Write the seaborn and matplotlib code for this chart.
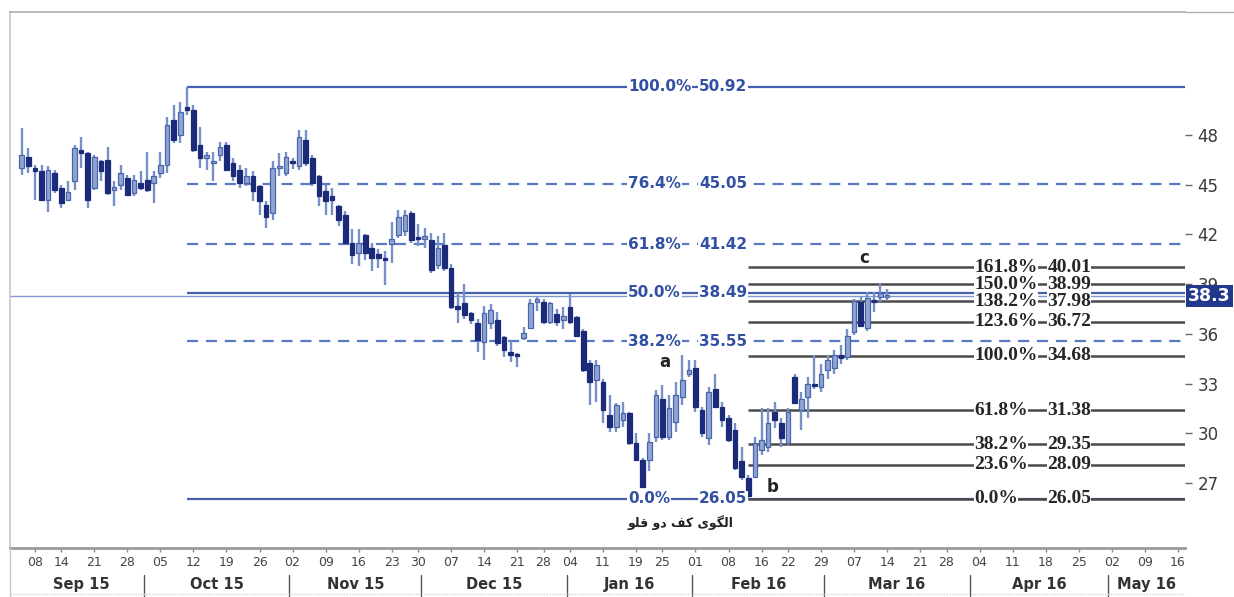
import pandas as pd
import seaborn as sns
import matplotlib.pyplot as plt
import matplotlib.transforms as mtransforms

# ======================================
# DATA (daily candles)
# ======================================

opens = [46.0, 46.7, 46.0, 45.8, 44.1, 45.7, 44.8, 44.1, 45.2, 47.1,
         46.9, 44.8, 46.4, 46.5, 44.7, 45.0, 45.4, 44.5, 45.1, 45.3,
         45.1, 45.7, 46.2, 48.9, 48.0, 49.7, 49.5, 47.4, 46.6, 46.3,
         46.8, 47.4, 46.3, 45.9, 45.1, 45.5, 44.9, 43.8, 43.3, 46.0,
         45.7, 46.4, 46.1, 47.7, 46.6, 45.5, 44.6, 44.3, 43.7, 43.2,
         41.5, 40.9, 41.95, 41.2, 40.8, 40.6, 41.4, 41.95, 42.2, 43.3,
         41.8, 41.7, 41.65, 40.15, 41.35, 40.0, 37.7, 37.85, 37.25, 36.65,
         35.5, 36.65, 36.85, 35.8, 34.9, 34.75, 35.75, 36.35, 37.9, 37.9,
         36.7, 37.2, 36.85, 37.6, 37.0, 36.2, 34.25, 33.2, 33.1, 31.1,
         30.4, 30.8, 31.2, 29.4, 28.4, 28.4, 29.8, 32.1, 29.8, 30.7,
         32.2, 33.6, 33.95, 31.4, 29.7, 32.7, 31.6, 30.9, 30.2, 28.3,
         27.3, 27.35, 29.0, 29.2, 31.3, 30.6, 29.4, 33.4, 31.4, 32.2,
         32.95, 32.8, 33.8, 33.95, 34.7, 34.6, 36.1, 37.9, 36.35, 38.05,
         38.2, 38.25]
highs = [48.4, 47.2, 46.2, 46.2, 46.1, 45.9, 45.0, 45.2, 47.4, 47.9,
         47.0, 46.8, 46.5, 47.3, 45.2, 46.2, 45.6, 45.6, 45.8, 47.0,
         45.8, 47.0, 49.1, 49.8, 50.0, 50.92, 49.8, 48.5, 47.0, 47.0,
         47.6, 47.6, 46.6, 46.2, 46.0, 45.8, 45.0, 44.0, 46.4, 46.9,
         47.0, 46.6, 48.3, 48.3, 46.8, 45.6, 45.0, 44.8, 43.8, 43.4,
         42.3, 42.3, 42.0, 41.5, 41.1, 41.0, 42.75, 43.5, 43.5, 43.4,
         42.6, 42.4, 42.1, 41.9, 42.1, 40.2, 38.45, 39.0, 37.3, 36.9,
         37.7, 37.8, 37.3, 35.9, 35.55, 34.85, 36.4, 38.1, 38.2, 38.1,
         37.9, 37.5, 37.6, 38.4, 37.1, 36.3, 34.4, 34.4, 33.3, 32.3,
         31.8, 31.9, 31.3, 30.0, 28.5, 30.0, 32.6, 32.9, 32.3, 33.1,
         34.7, 34.4, 34.4, 31.6, 32.8, 33.6, 31.9, 31.1, 30.6, 29.2,
         27.5, 29.8, 31.5, 31.5, 31.9, 30.9, 31.5, 33.6, 32.5, 33.4,
         34.7, 34.2, 34.7, 35.0, 35.3, 36.3, 38.1, 38.2, 38.5, 38.5,
         39.05, 38.7]
lows = [45.6, 45.7, 44.1, 44.0, 43.35, 44.5, 43.6, 44.0, 44.7, 46.0,
        43.6, 44.7, 45.2, 44.35, 43.7, 44.7, 44.3, 44.3, 44.7, 44.55,
        43.9, 45.4, 45.7, 47.5, 47.5, 49.2, 47.0, 46.0, 45.9, 45.2,
        46.4, 45.8, 45.2, 44.8, 44.9, 44.0, 43.2, 42.4, 42.9, 45.5,
        45.5, 45.95, 45.9, 46.1, 44.9, 43.7, 43.2, 43.2, 42.5, 41.45,
        40.2, 40.1, 40.45, 39.8, 40.0, 38.95, 40.3, 41.8, 41.9, 41.5,
        41.3, 41.2, 39.7, 39.9, 39.8, 37.5, 36.65, 36.9, 36.6, 34.9,
        34.4, 36.3, 35.25, 34.6, 34.3, 34.0, 35.6, 36.3, 37.4, 36.6,
        36.6, 36.5, 36.3, 36.6, 35.8, 33.7, 31.7, 31.9, 30.6, 30.1,
        30.1, 30.4, 29.3, 28.3, 26.7, 27.7, 29.5, 29.6, 29.6, 30.1,
        31.7, 33.4, 31.3, 29.8, 29.3, 31.5, 30.4, 29.5, 27.8, 27.2,
        26.05, 27.3, 28.7, 28.9, 30.3, 29.2, 29.3, 31.75, 30.2, 30.9,
        32.7, 32.5, 33.3, 33.6, 34.2, 34.4, 35.95, 36.4, 36.2, 37.3,
        37.9, 38.0]
closes = [46.8, 46.1, 45.8, 44.1, 45.9, 44.7, 43.9, 44.55, 47.2, 46.9,
          44.1, 46.7, 45.8, 44.5, 44.85, 45.7, 44.4, 45.3, 44.8, 44.7,
          45.5, 46.2, 48.6, 47.7, 49.4, 49.5, 47.1, 46.6, 46.8, 46.4,
          47.3, 45.9, 45.5, 45.1, 45.5, 44.6, 44.0, 43.05, 46.0, 46.1,
          46.7, 46.3, 47.9, 46.3, 45.1, 44.3, 44.0, 44.1, 42.9, 41.5,
          40.75, 41.5, 40.9, 40.6, 40.6, 40.45, 41.7, 43.05, 43.2, 41.65,
          41.7, 41.9, 39.85, 41.2, 40.0, 37.6, 37.5, 37.15, 36.85, 35.6,
          37.25, 37.45, 35.45, 35.0, 34.75, 34.65, 36.05, 37.85, 38.1, 36.7,
          37.85, 36.7, 37.05, 36.7, 35.9, 33.8, 33.1, 34.1, 31.4, 30.4,
          31.7, 31.2, 29.4, 28.4, 26.75, 29.5, 32.3, 29.8, 31.5, 32.3,
          33.2, 33.8, 31.6, 30.0, 32.5, 31.6, 30.8, 29.6, 27.9, 27.35,
          26.2, 29.4, 29.6, 30.6, 30.8, 29.7, 31.3, 31.8, 32.1, 33.0,
          32.85, 33.6, 34.4, 34.7, 34.55, 35.9, 38.0, 36.5, 38.15, 37.9,
          38.45, 38.35]

first_day = "2015-09-03"
holidays = ["2015-09-07", "2015-11-26", "2015-12-25", "2016-01-01",
            "2016-01-18", "2016-02-15", "2016-03-25", "2016-05-30"]

# retracement of the Oct high -> Feb low (blue)
ret_pct = ["100.0%", "76.4%", "61.8%", "50.0%", "38.2%", "0.0%"]
ret_val = [50.92, 45.05, 41.42, 38.49, 35.55, 26.05]
ret_dashed = [False, True, True, False, True, False]

# extension a-b-c (black)
ext_pct = ["161.8%", "150.0%", "138.2%", "123.6%", "100.0%",
           "61.8%", "38.2%", "23.6%", "0.0%"]
ext_val = [40.01, 38.99, 37.98, 36.72, 34.68, 31.38, 29.35, 28.09, 26.05]

price_ticks = [27, 30, 33, 36, 39, 42, 45, 48]
last_price = 38.3
note_text = "\uFEEE\uFEE0\uFED7 \uFEED\uFEA9 \uFED2\uFB90 \uFBFC\uFEEE\uFB95\uFEDF\uFE8D"  # الگوی کف دو قلو

# ======================================
# CALENDAR (trading-day index on x)
# ======================================

days = pd.bdate_range(first_day, "2016-06-10", freq="C", holidays=holidays)
frame = pd.DataFrame({"date": days[:180]})
frame["idx"] = range(len(frame))
frame["week"] = frame["date"].dt.to_period("W")
frame["month"] = frame["date"].dt.to_period("M")

candles = pd.DataFrame({"o": opens, "h": highs, "l": lows, "c": closes})
candles["idx"] = range(len(candles))
candles["up"] = candles["c"] >= candles["o"]

# ======================================
# FIGURE
# ======================================

sns.set_theme(style="white")
plt.rcParams["font.family"] = ["DejaVu Sans"]

W, H = 1234, 597
fig = plt.figure(figsize=(W / 100, H / 100), dpi=100)
ax = fig.add_axes([10 / W, 49 / H, 1175 / W, 536 / H])

x_left, x_right = -1.77, 176.1
ax.set_xlim(x_left, x_right)
ax.set_ylim(23.08, 55.42)

navy = "#1c2a7a"
up_fill = "#8fa5d2"
up_edge = "#4a65ad"
wick = "#7690c8"
fib_blue = "#4460aa"
fib_dash = "#5a79c2"
label_blue = "#3250a3"
ext_grey = "#4a4a4a"

# wicks
ax.vlines(candles["idx"], candles["l"], candles["h"], color=wick, lw=1.7, zorder=4)

# bodies
body_h = (candles["c"] - candles["o"]).abs().clip(lower=0.12)
body_b = candles[["o", "c"]].min(axis=1)
ax.bar(candles["idx"], body_h, bottom=body_b, width=0.7,
       color=[up_fill if u else navy for u in candles["up"]],
       edgecolor=[up_edge if u else navy for u in candles["up"]],
       linewidth=0.9, zorder=5)

# blue retracement
x_start = 25
for pct, val, dashed in zip(ret_pct, ret_val, ret_dashed):
    ax.hlines(val, x_start, x_right,
              color=fib_dash if dashed else fib_blue, lw=1.6,
              linestyles=(0, (5, 3.5)) if dashed else "solid", zorder=2)
    box = dict(facecolor="white", edgecolor="none", pad=0.6)
    ax.text(91.8, val, pct, ha="left", va="center", fontsize=11,
            fontweight="bold", color=label_blue, bbox=box, zorder=6)
    ax.text(109.8, val, f"{val:.2f}", ha="right", va="center", fontsize=11,
            fontweight="bold", color=label_blue, bbox=box, zorder=6)

# current price line
ax.axhline(last_price, color="#7f9ad0", lw=1.0, zorder=2)

# black extension
x_ext = 110
for pct, val in zip(ext_pct, ext_val):
    ax.hlines(val, x_ext, x_right, color=ext_grey, lw=1.8, zorder=3)
    box = dict(facecolor="white", edgecolor="none", pad=0.2)
    ax.text(144.2, val, pct, ha="left", va="center", fontsize=14,
            fontweight="bold", family="Liberation Serif", color="#262626",
            bbox=box, zorder=6)
    ax.text(161.9, val, f"{val:.2f}", ha="right", va="center", fontsize=14,
            fontweight="bold", family="Liberation Serif", color="#262626",
            bbox=box, zorder=6)

# wave letters and note
for letter, xi, yv in [("a", 97.4, 34.3), ("b", 113.6, 26.75), ("c", 127.5, 40.55)]:
    ax.text(xi, yv, letter, ha="center", va="center", fontsize=12,
            fontweight="bold", color="#222222", zorder=7)
ax.text(99.7, 24.62, note_text, ha="center", va="center", fontsize=9,
        fontweight="bold", color="#222222", family=["DejaVu Sans"], zorder=7)

# right price axis
ax.yaxis.tick_right()
ax.set_yticks(price_ticks)
ax.set_yticklabels([str(t) for t in price_ticks])
ax.tick_params(axis="y", right=True, length=5, width=1, color="#666666",
               pad=4, labelsize=12, labelcolor="#3a3a3a")
ax.text(1.0025, last_price, f"{last_price:.1f}", transform=ax.get_yaxis_transform(),
        ha="left", va="center", fontsize=12.5, fontweight="bold", color="white",
        bbox=dict(facecolor="#22388a", edgecolor="none", pad=1.5), zorder=10,
        clip_on=False)

# bottom date axis
weeks = frame.groupby("week")["idx"].first()
weeks = weeks[weeks > 0]
weeks = weeks[weeks <= x_right]
ax.set_xticks(list(weeks.values))
ax.set_xticklabels(frame.loc[weeks.values, "date"].dt.strftime("%d"))
ax.tick_params(axis="x", bottom=True, length=3, width=1, color="#888888",
               pad=3, labelsize=9, labelcolor="#444444")

months = frame.groupby("month")["idx"].agg(["first", "last"])
xform = mtransforms.blended_transform_factory(ax.transData, ax.transAxes)
for per, row in months.iterrows():
    if row["first"] > x_right:
        break
    lo = max(row["first"] - 0.5, x_left)
    hi = min(row["last"] + 0.5, x_right)
    ax.text((lo + hi) / 2, -0.068, per.strftime("%b %y"), transform=xform,
            ha="center", va="center", fontsize=10.5, fontweight="bold",
            color="#333333")
    if row["first"] > 0:
        ax.plot([row["first"] - 0.5] * 2, [-0.05, -0.09], transform=xform,
                color="#555555", lw=1, clip_on=False)

ax.spines["right"].set_visible(False)
ax.spines["top"].set_color("#b0b0b0")
ax.spines["left"].set_color("#c8c8c8")
ax.spines["bottom"].set_color("#9a9a9a")
ax.spines["bottom"].set_linewidth(2)
ax.grid(False)

fig.add_artist(plt.Line2D([1185 / W, 1.0], [1 - 12 / H] * 2, color="#b0b0b0", lw=1))
fig.add_artist(plt.Line2D([10 / W] * 2, [0, 49 / H], color="#c8c8c8", lw=1))
fig.add_artist(plt.Line2D([10 / W, 1185 / W], [3 / H] * 2, color="#d0d0d0",
                          lw=1, ls=(0, (1, 1))))

fig.savefig("out.png", dpi=100)
